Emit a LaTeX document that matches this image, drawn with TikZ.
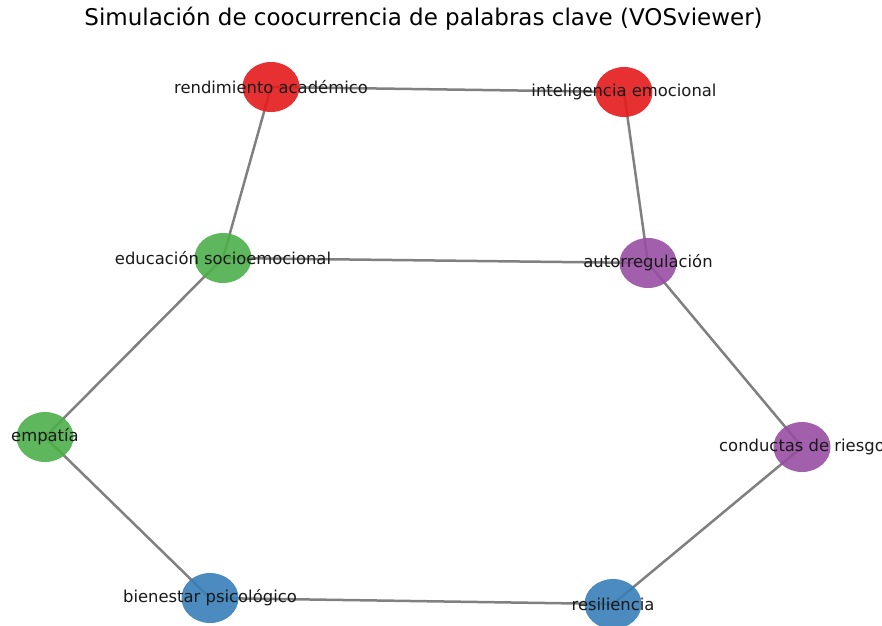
\documentclass[tikz,border=0pt]{standalone}
\usepackage{fontspec}
\setmainfont{DejaVu Sans}
\usetikzlibrary{shapes.geometric}
\definecolor{vosred}{HTML}{E41A1C}
\definecolor{vosblue}{HTML}{377EB8}
\definecolor{vosgreen}{HTML}{4DAF4A}
\definecolor{vospurple}{HTML}{984EA3}
\pgfdeclarelayer{background}
\pgfsetlayers{background,main}
\tikzset{word node/.style={ellipse, fill opacity=0.9, draw=none, minimum width=57pt, minimum height=50pt, inner sep=0pt, label={[word label]center:#1}}, }
\tikzset{word label/.style={font=\fontsize{16.4}{19}\selectfont, text=black!90, inner sep=0pt}, }
\tikzset{red node/.style={word node=#1, fill=vosred}, }
\tikzset{blue node/.style={word node=#1, fill=vosblue}, }
\tikzset{green node/.style={word node=#1, fill=vosgreen}, }
\tikzset{purple node/.style={word node=#1, fill=vospurple}, }
\begin{document}
\begin{tikzpicture}[x=1pt,y=-1pt]
	\useasboundingbox (0,0) rectangle (882,625);
	\clip (0,0) rectangle (882,625);
	\node (title) at (423.5,19) {\fontsize{23}{27}\selectfont Simulación de coocurrencia de palabras clave (VOSviewer)};
	\node[red node={rendimiento académico}] (1) at (271,87) {};
	\node[red node={inteligencia emocional}] (2) at (624,92) {};
	\node[green node={educación socioemocional}] (3) at (223,258) {};
	\node[purple node={autorregulación}] (4) at (648,263) {};
	\node[green node={empatía}] (5) at (45,437) {};
	\node[purple node={conductas de riesgo}] (6) at (802,447) {};
	\node[blue node={bienestar psicológico}] (7) at (210,598) {};
	\node[blue node={resiliencia}] (8) at (613,604) {};
	\begin{pgfonlayer}{background}
	\path[draw,line width=2.5pt,black!50]
		(1.center) edge (2.center)
		(1.center) edge (3.center)
		(2.center) edge (4.center)
		(3.center) edge (4.center)
		(3.center) edge (5.center)
		(4.center) edge (6.center)
		(5.center) edge (7.center)
		(7.center) edge (8.center)
		(8.center) edge (6.center)
		;
	\end{pgfonlayer}
\end{tikzpicture}
\end{document}
